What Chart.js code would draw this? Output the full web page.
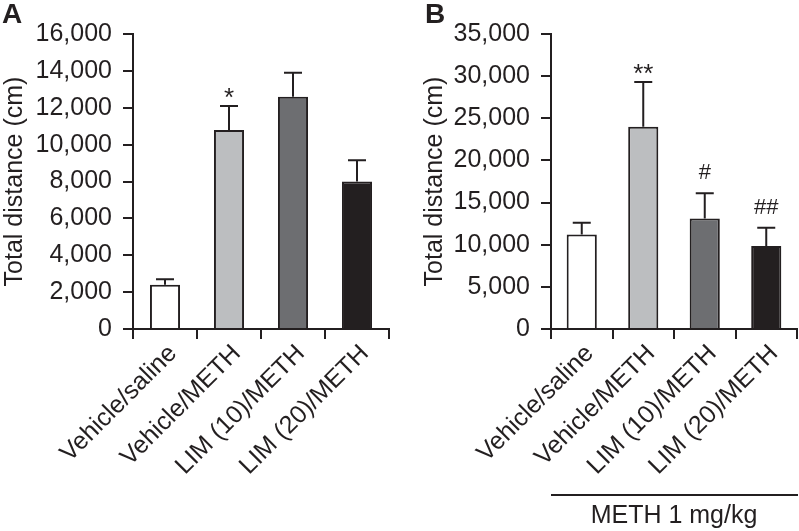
<!DOCTYPE html>
<html><head><meta charset="utf-8">
<script src="https://cdn.jsdelivr.net/npm/chart.js@4.4.1/dist/chart.umd.min.js"></script>
<style>
html,body{margin:0;padding:0;background:#fff;}
#wrap{position:relative;width:799px;height:531px;overflow:hidden;}
#ca{position:absolute;left:0;top:0;}
#cb{position:absolute;left:400px;top:0;}
</style></head><body>
<div id="wrap"><canvas id="ca" width="400" height="531"></canvas><canvas id="cb" width="399" height="531"></canvas></div>
<script>
const categories = ['Vehicle/saline', 'Vehicle/METH', 'LIM (10)/METH', 'LIM (20)/METH'];
const barColors = ['#ffffff', '#bcbec0', '#6d6e71', '#231f20'];
const valuesA = [2400, 10800, 12600, 8000];
const errorTopA = [2700, 12100, 13900, 9150];
const marksA = ['', '*', '', ''];
const valuesB = [11200, 24000, 13100, 9850];
const errorTopB = [12600, 29300, 16100, 12000];
const marksB = ['', '**', '#', '##'];
const yMaxA = 16000, yStepA = 2000;
const yMaxB = 35000, yStepB = 5000;
const yTitle = 'Total distance (cm)';
const xTitleB = 'METH 1 mg/kg';

const INK = '#231f20';
const FAMILY = '"Liberation Sans", Arial, Helvetica, sans-serif';
const FS = 25;

const extrasPlugin = {
  id: 'extras',
  afterDatasetsDraw(c, args, o) {
    const ctx = c.ctx;
    const ys = c.scales.y;
    const meta = c.getDatasetMeta(0);
    ctx.save();
    ctx.strokeStyle = INK;
    ctx.lineWidth = 2;
    o.errs.forEach((e, i) => {
      const bar = meta.data[i];
      const x = bar.x;
      const yv = ys.getPixelForValue(o.values[i]);
      const ye = ys.getPixelForValue(e);
      ctx.beginPath();
      ctx.moveTo(x, yv); ctx.lineTo(x, ye);
      ctx.moveTo(x - 9, ye); ctx.lineTo(x + 9, ye);
      ctx.stroke();
      const m = o.marks[i];
      if (m) {
        ctx.fillStyle = INK;
        ctx.textAlign = 'center';
        ctx.textBaseline = 'alphabetic';
        const star = m.indexOf('*') >= 0;
        ctx.font = (star ? 26 : 22) + 'px ' + FAMILY;
        ctx.fillText(m, x, ye - (star ? 0 : 14));
      }
    });
    ctx.restore();
  },
  afterDraw(c, args, o) {
    const ctx = c.ctx;
    ctx.save();
    ctx.fillStyle = INK;
    ctx.font = 'bold 28px ' + FAMILY;
    ctx.textAlign = 'left';
    ctx.textBaseline = 'alphabetic';
    ctx.fillText(o.letter, o.letterX, 23);
    if (o.underline) {
      const xs = c.scales.x;
      ctx.strokeStyle = INK;
      ctx.lineWidth = 2;
      ctx.beginPath();
      ctx.moveTo(c.chartArea.left, xs.bottom - 36);
      ctx.lineTo(c.chartArea.right + 1, xs.bottom - 36);
      ctx.stroke();
    }
    ctx.restore();
  }
};

function makeChart(id, values, errs, marks, yMax, yStep, cfg) {
  const font = { family: FAMILY, size: FS };
  return new Chart(document.getElementById(id), {
    type: 'bar',
    data: {
      labels: categories,
      datasets: [{
        data: values,
        backgroundColor: barColors,
        borderColor: INK,
        borderWidth: 2,
        barPercentage: cfg.barPct,
        categoryPercentage: 1
      }]
    },
    plugins: [extrasPlugin],
    options: {
      responsive: false,
      animation: false,
      layout: { padding: { left: cfg.padLeft, right: cfg.padRight, top: 34, bottom: 0 } },
      plugins: {
        legend: { display: false },
        tooltip: { enabled: false },
        extras: { values, errs, marks, letter: cfg.letter, letterX: cfg.letterX, underline: !!cfg.xTitle }
      },
      scales: {
        x: {
          offset: true,
          grid: { display: true, drawOnChartArea: false, drawTicks: true, tickLength: 10, color: INK, lineWidth: 2, offset: true },
          border: { display: true, color: INK, width: 2 },
          ticks: { minRotation: 45, maxRotation: 45, color: INK, font, padding: 0, autoSkip: false, labelOffset: 8 },
          title: cfg.xTitle ? { display: true, text: cfg.xTitle, color: INK, font, padding: { top: 0, bottom: 0 } } : { display: false },
          afterFit: s => { s.height = 531 - 329; }
        },
        y: {
          min: 0, max: yMax,
          ticks: { stepSize: yStep, color: INK, font, padding: 11, callback: v => Number(v).toLocaleString('en-US') },
          grid: { drawOnChartArea: false, tickLength: 10, color: INK, lineWidth: 2 },
          border: { display: true, color: INK, width: 2 },
          title: { display: true, text: yTitle, color: INK, font, padding: 0 },
          afterFit: s => { s.width = cfg.axisW; }
        }
      }
    }
  });
}

makeChart('ca', valuesA, errorTopA, marksA, yMaxA, yStepA,
  { padLeft: 0, padRight: 11, axisW: 133, barPct: 0.47, letter: 'A', letterX: 2 });
makeChart('cb', valuesB, errorTopB, marksB, yMaxB, yStepB,
  { padLeft: 20, padRight: 2, axisW: 131, barPct: 0.49, letter: 'B', letterX: 25, xTitle: xTitleB });
</script>
</body></html>
